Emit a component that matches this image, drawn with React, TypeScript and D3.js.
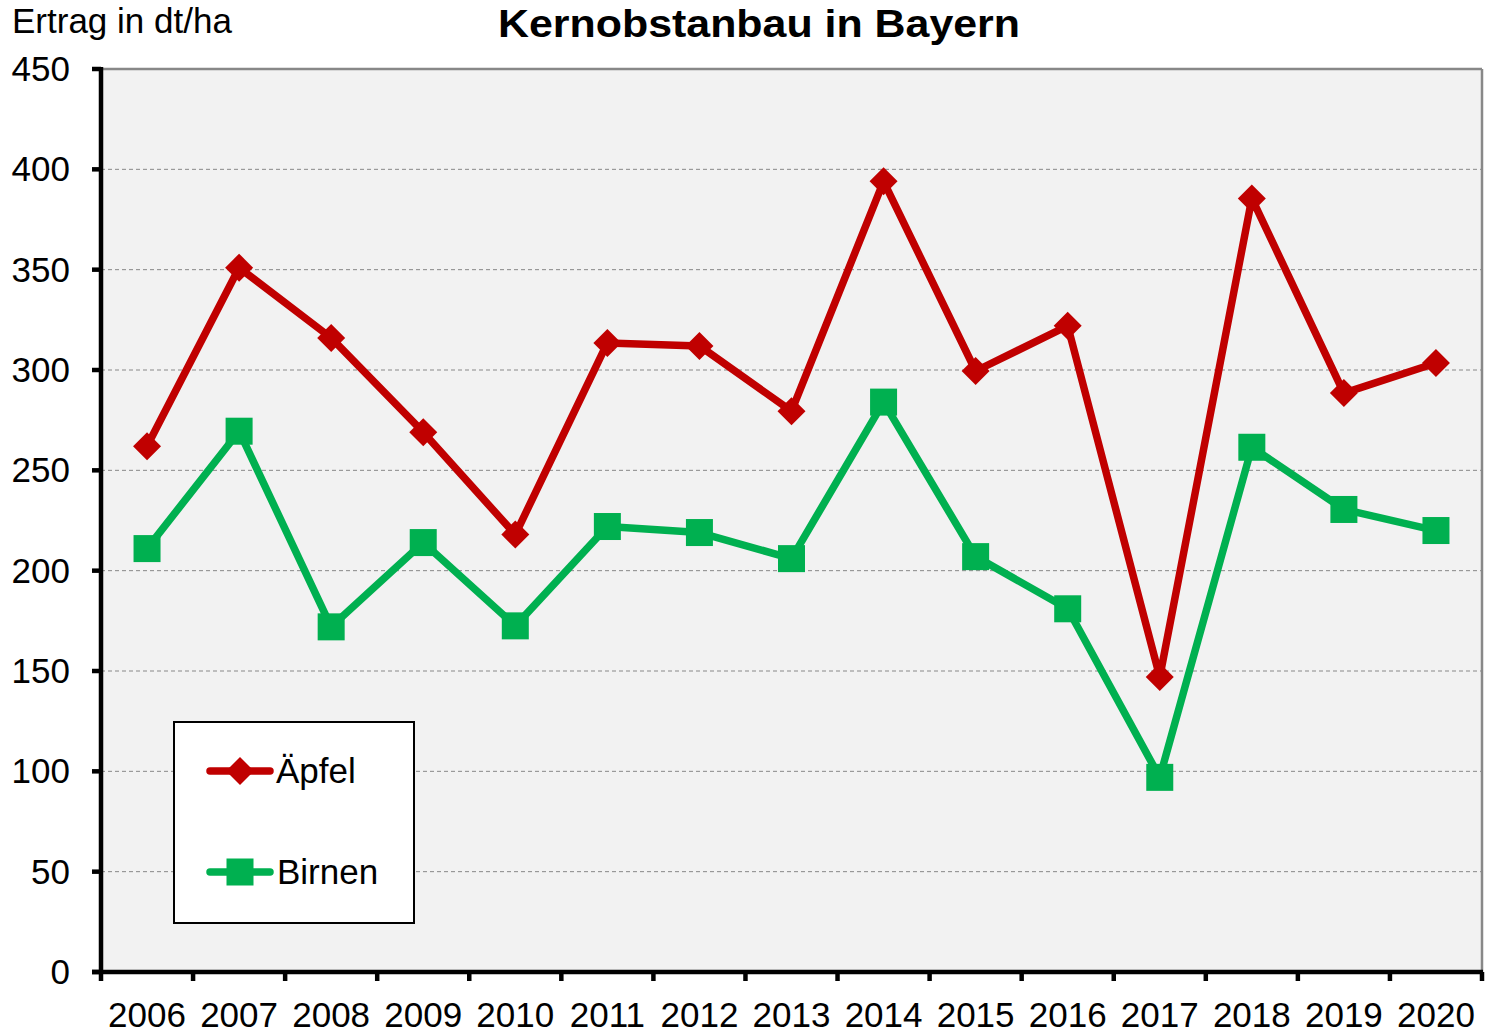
import React from "react";
import * as d3 from "d3";

const years = ["2006","2007","2008","2009","2010","2011","2012","2013","2014","2015","2016","2017","2018","2019","2020"];
const aepfel = [262, 351, 316, 269, 218, 313.5, 312, 279.5, 394, 299.5, 322, 147, 385.5, 288.5, 303.5];
const birnen = [211, 269.5, 172, 214, 172.5, 222, 219, 206, 284, 207, 181, 97, 261.5, 230.5, 220];
const yTicks = [0, 50, 100, 150, 200, 250, 300, 350, 400, 450];

const W = 1487, H = 1033;
const L = 101, R = 1482, T = 69, B = 972;
const FONT = "'Liberation Sans', Arial, sans-serif";
const RED = "#C00000", GREEN = "#00B050";

export default function App() {
  const x = d3.scaleBand<string>().domain(years).range([L, R]).padding(0);
  const y = d3.scaleLinear().domain([0, 450]).range([B, T]);
  const cx = (yr: string) => (x(yr) as number) + x.bandwidth() / 2;
  const line = d3.line<number>().x((_, i) => cx(years[i])).y((d) => y(d));
  const diamond = (px: number, py: number, r: number) =>
    `M${px},${py - r}L${px + r},${py}L${px},${py + r}L${px - r},${py}Z`;
  const sq = 27;

  return (
    <svg width={W} height={H} style={{ position: "absolute", left: 0, top: 0, background: "#fff" }} fontFamily={FONT}>
      <rect x={L} y={T} width={R - L} height={B - T} fill="#F2F2F2" />
      {yTicks.filter((t) => t > 0 && t < 450).map((t) => (
        <line key={t} x1={L} x2={R} y1={y(t)} y2={y(t)} stroke="#888" strokeWidth={1} strokeDasharray="4,3" />
      ))}
      <line x1={L} x2={R} y1={T} y2={T} stroke="#888" strokeWidth={2.5} />
      <line x1={R} x2={R} y1={T} y2={B} stroke="#888" strokeWidth={2.5} />

      <path d={line(aepfel) || ""} fill="none" stroke={RED} strokeWidth={7.5} strokeLinejoin="round" />
      {aepfel.map((v, i) => (
        <path key={i} d={diamond(cx(years[i]), y(v), 14)} fill={RED} />
      ))}
      <path d={line(birnen) || ""} fill="none" stroke={GREEN} strokeWidth={7.5} strokeLinejoin="round" />
      {birnen.map((v, i) => (
        <rect key={i} x={cx(years[i]) - sq / 2} y={y(v) - sq / 2} width={sq} height={sq} fill={GREEN} />
      ))}

      {/* axes */}
      <line x1={L} x2={L} y1={T - 2} y2={B + 2} stroke="#000" strokeWidth={4.5} />
      <line x1={L - 9} x2={R + 1} y1={B} y2={B} stroke="#000" strokeWidth={4.5} />
      {yTicks.map((t) => (
        <g key={t}>
          <line x1={L - 9} x2={L} y1={y(t)} y2={y(t)} stroke="#000" strokeWidth={4.5} />
          <text x={70} y={y(t) + 12} fontSize={35} textAnchor="end" fill="#000">{t}</text>
        </g>
      ))}
      {years.concat(["end"]).map((yr, i) => {
        const px = i < years.length ? (x(yr) as number) : R;
        return <line key={yr} x1={px} x2={px} y1={B} y2={B + 9} stroke="#000" strokeWidth={4.5} />;
      })}
      {years.map((yr) => (
        <text key={yr} x={cx(yr)} y={1027} fontSize={35} textAnchor="middle" fill="#000">{yr}</text>
      ))}

      <text x={12} y={33} fontSize={35} fill="#000">Ertrag in dt/ha</text>
      <text x={759} y={37} fontSize={38} fontWeight="bold" textAnchor="middle" textLength={522} lengthAdjust="spacingAndGlyphs" fill="#000">Kernobstanbau in Bayern</text>

      {/* legend */}
      <rect x={174} y={722} width={240} height={201} fill="#fff" stroke="#000" strokeWidth={2} />
      <line x1={210} x2={270} y1={771} y2={771} stroke={RED} strokeWidth={7.5} strokeLinecap="round" />
      <path d={diamond(240, 771, 14)} fill={RED} />
      <text x={276} y={783} fontSize={35} fill="#000">Äpfel</text>
      <line x1={210} x2={270} y1={872} y2={872} stroke={GREEN} strokeWidth={7.5} strokeLinecap="round" />
      <rect x={240 - sq / 2} y={872 - sq / 2} width={sq} height={sq} fill={GREEN} />
      <text x={277} y={884} fontSize={35} fill="#000">Birnen</text>
    </svg>
  );
}
